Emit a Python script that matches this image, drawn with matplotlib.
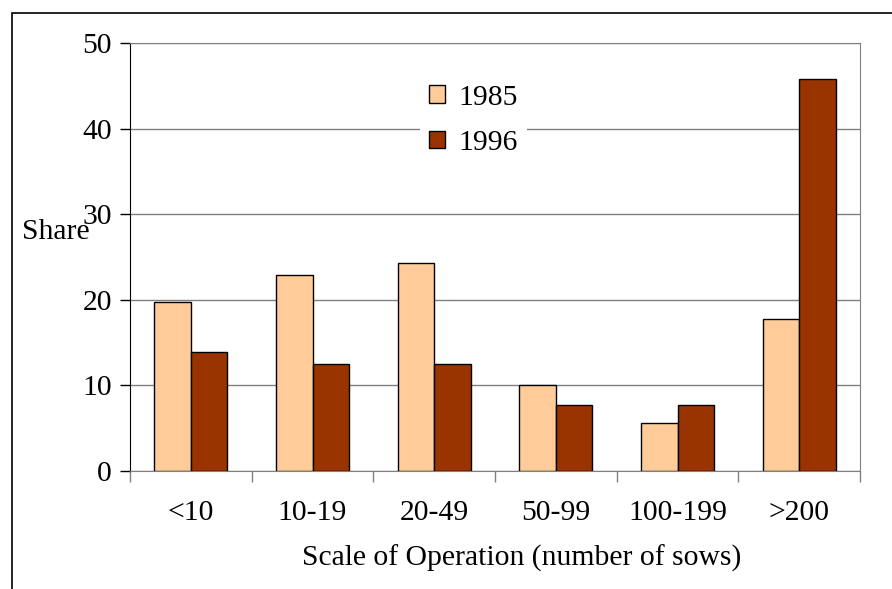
import matplotlib.pyplot as plt
import numpy as np
from matplotlib.patches import Rectangle

plt.rcParams['font.family'] = ['Liberation Serif', 'DejaVu Serif']

categorias = ["<10", "10-19", "20-49", "50-99", "100-199", ">200"]
share_1985 = [19.7, 22.9, 24.3, 10.0, 5.6, 17.8]
share_1996 = [13.9, 12.5, 12.5, 7.7, 7.7, 45.8]

fs = 21.3

fig = plt.figure(figsize=(8.92, 5.89), dpi=100)
ax = fig.add_axes([130 / 892, 118 / 589, 730 / 892, 428 / 589])

# marco exterior de la figura
fig.patches.append(Rectangle((12 / 892, -0.1), 1.2, (589 - 13) / 589 + 0.1,
                             transform=fig.transFigure, fill=False,
                             edgecolor='black', linewidth=1.2))

x = np.arange(len(categorias))
ancho = 0.3
ax.bar(x - ancho / 2, share_1985, ancho, color='#FFCC99', edgecolor='black',
       linewidth=1, label='1985', zorder=3)
ax.bar(x + ancho / 2, share_1996, ancho, color='#993300', edgecolor='black',
       linewidth=1, label='1996', zorder=3)

ax.set_xlim(-0.5, len(categorias) - 0.5)
ax.set_ylim(0, 50)
ax.set_yticks(range(0, 51, 10))
ax.set_xticks(x)
ax.set_xticklabels(categorias, fontsize=fs)
ax.set_xticks(np.arange(-0.5, len(categorias)), minor=True)
ax.tick_params(axis='x', which='major', length=0, pad=21)
ax.tick_params(axis='x', which='minor', length=8, color='#808080', width=1)
ax.tick_params(axis='y', labelsize=fs, length=7, width=1, pad=6)
ax.grid(axis='y', color='#808080', linewidth=1, zorder=0)

for lado in ['top', 'right', 'bottom']:
    ax.spines[lado].set_color('#808080')
ax.spines['left'].set_color('black')

ax.set_xlabel("Scale of Operation (number of sows)", fontsize=fs, labelpad=13)
ax.xaxis.label.set_x((522 - 130) / 730)
fig.text(22 / 892, 1 - 232 / 589, "Share", fontsize=fs, va='center', ha='left')

leg = ax.legend(loc='upper left', bbox_to_anchor=(275 / 730, 1 - 18 / 428),
                fontsize=fs, frameon=True, handlelength=0.55, handleheight=0.55,
                handletextpad=0.45, labelspacing=0.65, borderpad=0.3)
leg.get_frame().set_edgecolor('none')
leg.get_frame().set_facecolor('white')
leg.get_frame().set_alpha(1)
leg.set_zorder(5)

fig.savefig("out.png", dpi=100)
